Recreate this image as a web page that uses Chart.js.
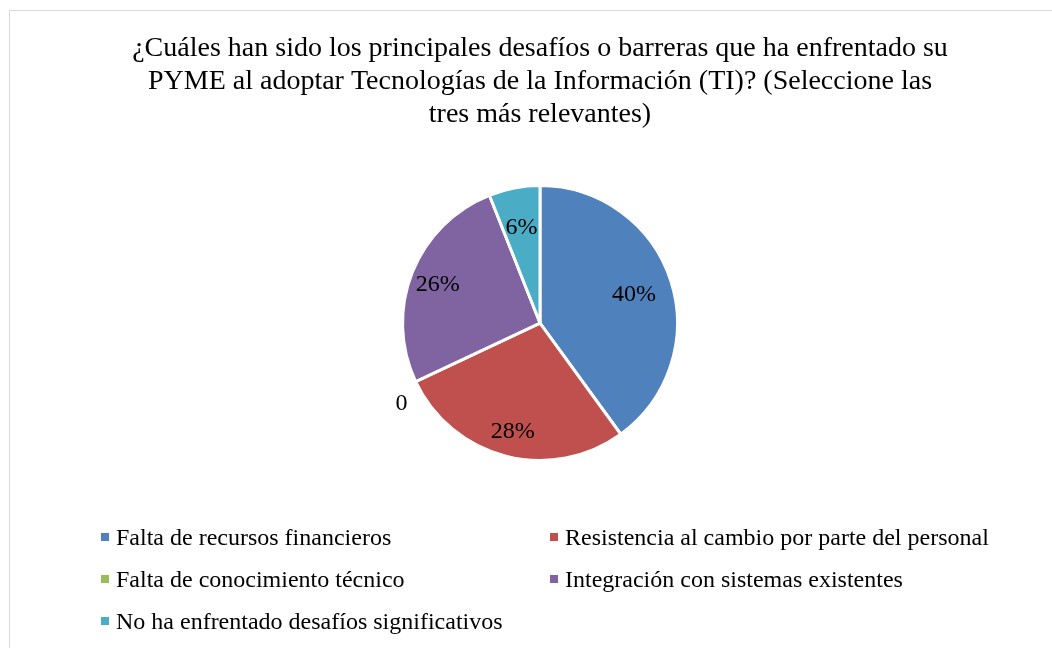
<!DOCTYPE html>
<html>
<head>
<meta charset="utf-8">
<script src="https://cdn.jsdelivr.net/npm/chart.js@4"></script>
<style>
  html, body { margin: 0; padding: 0; background: #fff; overflow: hidden; }
  #wrap { position: relative; width: 1052px; height: 648px; }
  #frame { position: absolute; left: 9px; top: 10px; width: 1060px; height: 660px; border: 1px solid #d9d9d9; box-sizing: border-box; }
  #pie { position: absolute; left: 0; top: 0; }
  #legend { position: absolute; left: 0; top: 0; font-family: "Liberation Serif", "Times New Roman", serif; font-size: 24px; color: #000; }
  .item { position: absolute; white-space: nowrap; line-height: 28px; }
  .box { position: absolute; width: 8px; height: 8px; top: 10px; }
</style>
</head>
<body>
<div id="wrap">
  <div id="frame"></div>
  <canvas id="pie" width="1052" height="648"></canvas>
  <div id="legend"></div>
</div>
<script>
  // datos
  const categorias = [
    'Falta de recursos financieros',
    'Resistencia al cambio por parte del personal',
    'Falta de conocimiento técnico',
    'Integración con sistemas existentes',
    'No ha enfrentado desafíos significativos',
  ]
  const porcentajes = [40, 28, 0, 26, 6]
  const colores = ['#4F81BD', '#C0504D', '#9BBB59', '#8064A2', '#4BACC6']
  const titulo = [
    '¿Cuáles han sido los principales desafíos o barreras que ha enfrentado su',
    'PYME al adoptar Tecnologías de la Información (TI)? (Seleccione las',
    'tres más relevantes)',
  ]

  const FONT = '"Liberation Serif", "Times New Roman", serif'

  // etiquetas dentro de cada sector (y "0" afuera para el sector vacio)
  const etiquetasPie = {
    id: 'etiquetasPie',
    afterDatasetsDraw(chart) {
      const ctx = chart.ctx
      const meta = chart.getDatasetMeta(0)
      const total = porcentajes.reduce((a, b) => a + b, 0)
      ctx.save()
      ctx.font = '24px ' + FONT
      ctx.fillStyle = '#000'
      ctx.textBaseline = 'middle'
      ctx.textAlign = 'center'
      meta.data.forEach((arc, i) => {
        const v = porcentajes[i]
        const mid = (arc.startAngle + arc.endAngle) / 2
        if (v === 0) {
          const r = arc.outerRadius + 20
          ctx.fillText('0', arc.x + Math.cos(mid) * r + 4, arc.y + Math.sin(mid) * r + 14)
          return
        }
        // un poco mas hacia afuera en la mitad inferior-izquierda
        const r = arc.outerRadius * (Math.sin(mid) > 0 || Math.cos(mid) < -0.5 ? 0.8 : 0.72)
        ctx.fillText(Math.round(v / total * 100) + '%', arc.x + Math.cos(mid) * r, arc.y + Math.sin(mid) * r + 2)
      })
      ctx.restore()
    },
  }

  const pieConfig = {
    type: 'pie',
    data: {
      labels: categorias,
      datasets: [
        {
          data: porcentajes,
          backgroundColor: colores,
          borderColor: '#ffffff',
          borderWidth: 3,
        },
      ],
    },
    options: {
      responsive: false,
      animation: false,
      layout: {
        padding: { left: 28, right: 0, top: 0, bottom: 186 },
      },
      plugins: {
        legend: { display: false },
        tooltip: { enabled: false },
        title: {
          display: true,
          text: titulo,
          color: '#000',
          font: { family: FONT, size: 28, weight: 'normal', lineHeight: 1.18 },
          padding: { top: 32, bottom: 53 },
        },
      },
    },
    plugins: [etiquetasPie],
  }

  const pieCanvas = document.getElementById('pie')
  window.myPie = new Chart(pieCanvas, pieConfig)

  // leyenda en dos columnas
  const legend = document.getElementById('legend')
  const colX = [101, 550]
  const rowY = [537, 579, 621]
  categorias.forEach((nombre, i) => {
    const item = document.createElement('div')
    item.className = 'item'
    item.style.left = colX[i % 2] + 'px'
    item.style.top = (rowY[Math.floor(i / 2)] - 14) + 'px'
    item.style.paddingLeft = '15px'
    const box = document.createElement('span')
    box.className = 'box'
    box.style.left = '0px'
    box.style.background = colores[i]
    item.appendChild(box)
    item.appendChild(document.createTextNode(nombre))
    legend.appendChild(item)
  })
</script>
</body>
</html>
